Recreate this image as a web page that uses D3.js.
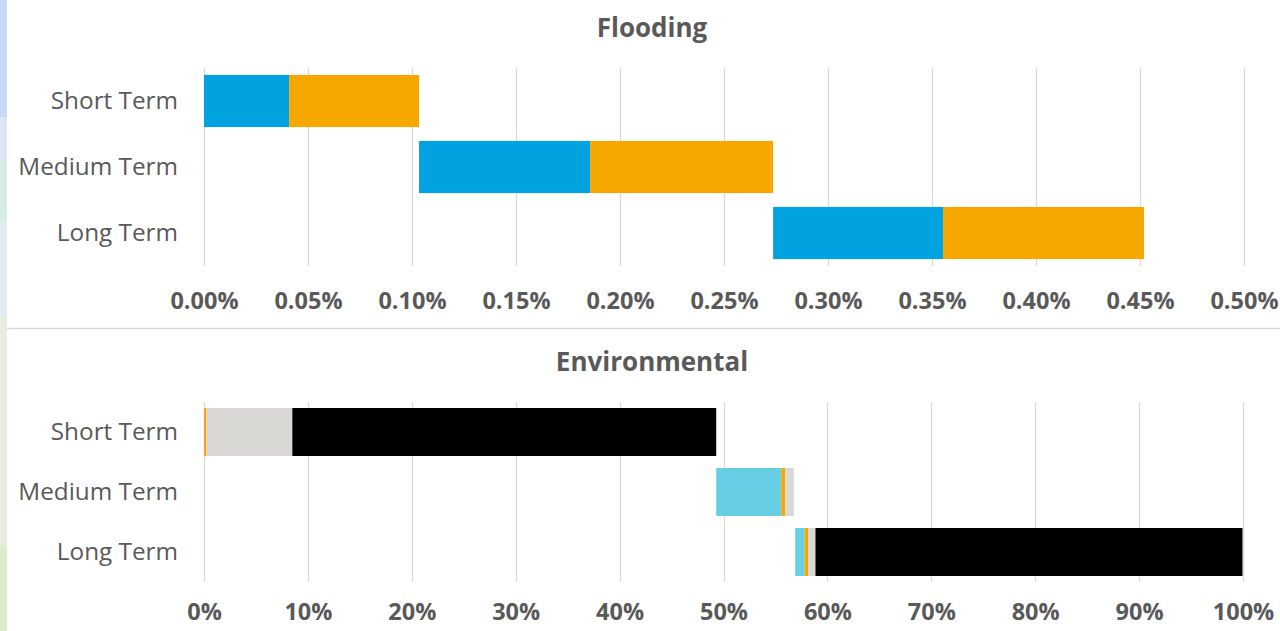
<!DOCTYPE html>
<html><head><meta charset="utf-8">
<script src="https://cdn.jsdelivr.net/npm/d3@7"></script>
<style>
html,body{margin:0;padding:0;background:#fff;}
svg{display:block;font-family:"Open Sans",sans-serif;}
</style></head>
<body><svg id="c" width="1280" height="631"></svg>
<script>
// ---- data ----
const categories = ["Short Term", "Medium Term", "Long Term"];
// Flooding (fractions of 1, i.e. 0.001 = 0.10%)
const floodOffset = [0, 0.001034, 0.002736];
const floodBlue   = [0.000409, 0.000822, 0.000817];
const floodOrange = [0.000625, 0.000880, 0.000966];
const floodTicks  = [0, 0.0005, 0.001, 0.0015, 0.002, 0.0025, 0.003, 0.0035, 0.004, 0.0045, 0.005];
// Environmental
const envOffset = [0, 0.493, 0.569];
const envCyan   = [0, 0.0626, 0.009];
const envOrange = [0.002, 0.0038, 0.0035];
const envGray   = [0.083, 0.0083, 0.007];
const envBlack  = [0.408, 0, 0.411];
const envTicks  = [0, 0.1, 0.2, 0.3, 0.4, 0.5, 0.6, 0.7, 0.8, 0.9, 1.0];

const svg = d3.select("#c");
const txt = "#595959", grid = "#d9d9d9";

// left decorative strip
const strip = [["#c6dbf1",0,117],["#dce6f1",117,160],["#d4ebe6",160,220],["#e1ebf0",220,315],["#e6eee4",315,545],["#dcecca",545,631]];
svg.selectAll("rect.strip").data(strip).join("rect").attr("class","strip")
  .attr("x",0).attr("width",7).attr("y",d=>d[1]).attr("height",d=>d[2]-d[1]).attr("fill",d=>d[0]);
svg.append("line").attr("x1",7).attr("x2",1280).attr("y1",328.5).attr("y2",328.5).attr("stroke","#d9d9d9").attr("stroke-width",1.5);

function panel(opt){
  const x = d3.scaleLinear().domain([0, opt.max]).range([204, opt.xEnd]);
  const y = d3.scaleBand().domain(categories).range([opt.y0, opt.y1]).paddingInner(opt.pad).paddingOuter(opt.pad/2);
  const g = svg.append("g");
  g.append("text").attr("x",652).attr("y",opt.titleY).attr("text-anchor","middle")
    .attr("font-size",26).attr("font-weight","bold").attr("fill",txt).text(opt.title);
  g.selectAll("line.grid").data(opt.ticks).join("line").attr("class","grid")
    .attr("x1",d=>Math.round(x(d))+0.5).attr("x2",d=>Math.round(x(d))+0.5)
    .attr("y1",opt.y0).attr("y2",opt.y1).attr("stroke",grid).attr("stroke-width",1.3);
  // stacked bars
  opt.series.forEach((s,si)=>{
    g.selectAll("rect.s"+si).data(categories).join("rect").attr("class","s"+si)
      .attr("x",(c,i)=>{let st=opt.offset[i];for(let k=0;k<si;k++)st+=opt.series[k].v[i];return x(st);})
      .attr("width",(c,i)=>x(s.v[i])-x(0))
      .attr("y",c=>y(c)).attr("height",y.bandwidth()).attr("fill",s.color);
  });
  const ax = d3.axisBottom(x).tickValues(opt.ticks).tickSize(0).tickFormat(opt.fmt);
  const axg = g.append("g").attr("transform",`translate(0,${opt.axisY})`).call(ax);
  axg.select(".domain").remove();
  axg.selectAll("text").attr("font-size",23.5).attr("font-weight","bold").attr("fill",txt)
    .attr("font-family","'Open Sans',sans-serif").attr("dy","0.35em").attr("y",0);
  const ay = d3.axisLeft(y).tickSize(0).tickPadding(0);
  const ayg = g.append("g").attr("transform","translate(178,0)").call(ay);
  ayg.select(".domain").remove();
  ayg.selectAll("text").attr("font-size",24.3).attr("fill",txt).attr("font-family","'Open Sans',sans-serif");
}

panel({title:"Flooding", titleY:37, max:0.005, xEnd:1244, y0:68, y1:266, pad:0.21,
  offset:floodOffset, ticks:floodTicks, axisY:301, fmt:d3.format(".2%"),
  series:[{v:floodBlue,color:"#00a3e0"},{v:floodOrange,color:"#f6a800"}]});
panel({title:"Environmental", titleY:371, max:1, xEnd:1243, y0:402, y1:582, pad:0.2,
  offset:envOffset, ticks:envTicks, axisY:612, fmt:d3.format(".0%"),
  series:[{v:envCyan,color:"#67cfe3"},{v:envOrange,color:"#f6a800"},{v:envGray,color:"#d9d8d5"},{v:envBlack,color:"#000000"}]});
</script></body></html>
